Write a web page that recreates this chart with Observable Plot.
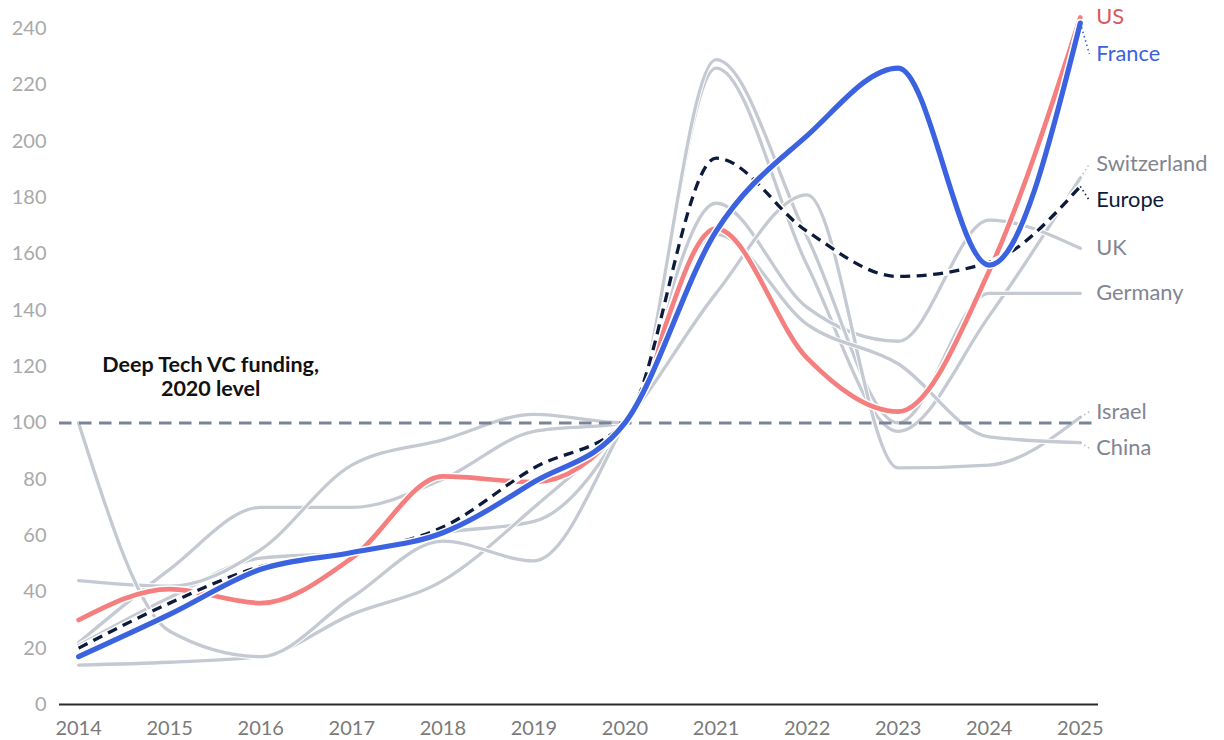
<!DOCTYPE html>
<html>
<head>
<meta charset="utf-8">
<script src="https://cdn.jsdelivr.net/npm/d3@7"></script>
<script src="https://cdn.jsdelivr.net/npm/@observablehq/plot@0.6"></script>
<style>
  html, body { margin: 0; padding: 0; background: #fff; }
  #chart { width: 1224px; height: 740px; }
</style>
</head>
<body>
<div id="chart"></div>
<script>
// Deep Tech VC funding, indexed to the 2020 level (2020 = 100)
const years = [2014, 2015, 2016, 2017, 2018, 2019, 2020, 2021, 2022, 2023, 2024, 2025];

const us          = [30, 41, 36, 52, 81, 79, 100, 169, 123, 104, 154, 244];
const france      = [17, 32, 48, 54, 61, 79, 100, 168, 202, 226, 156, 242];
const europe      = [20, 36, 49, 54, 63, 84, 100, 194, 168, 152, 157, 184];
const switzerland = [22, 48, 70, 70, 80, 97, 100, 226, 156, 97, 138, 187];
const uk          = [21, 38, 52, 54, 61, 65, 100, 178, 141, 129, 172, 162];
const germany     = [44, 42, 55, 85, 94, 103, 100, 229, 166, 100, 146, 146];
const israel      = [14, 15, 17, 32, 44, 70, 100, 146, 181, 84, 85, 102];
const china       = [100, 26, 17, 38, 58, 51, 100, 167, 135, 121, 95, 93];

const yTicks = [0, 20, 40, 60, 80, 100, 120, 140, 160, 180, 200, 220, 240];
const baseline = 100;
const annotation = ["Deep Tech VC funding,", "2020 level"];

// Styling per series
const GRAY = "#c4c9d2";
const series = [
  {name: "Switzerland", values: switzerland, stroke: GRAY, label: "#7f8591", width: 3.3},
  {name: "UK",          values: uk,          stroke: GRAY, label: "#7f8591", width: 3.3},
  {name: "Germany",     values: germany,     stroke: GRAY, label: "#7f8591", width: 3.3},
  {name: "Israel",      values: israel,      stroke: GRAY, label: "#7f8591", width: 3.3},
  {name: "China",       values: china,       stroke: GRAY, label: "#7f8591", width: 3.3},
  {name: "US",          values: us,          stroke: "#f47f7e", label: "#d9585b", width: 4.7},
  {name: "Europe",      values: europe,      stroke: "#0c1a3b", label: "#0c1a3b", width: 3.3, dash: "10,6.5"},
  {name: "France",      values: france,      stroke: "#3b62df", label: "#3b62df", width: 5.2}
];

const rowsOf = s => years.map((year, i) => ({name: s.name, year, value: s.values[i]}));

// End labels: spread apart so they never overlap, capped at the highest end value
const lastYear = years[years.length - 1];
const ends = series.map(s => ({...s, end: s.values[s.values.length - 1]}))
  .sort((a, b) => b.end - a.end);
const labelGap = 13;
const labelCap = ends[0].end;
ends.forEach(e => e.pos = e.end);
for (let k = 0; k < 300; k++) {
  for (let i = 0; i < ends.length - 1; i++) {
    const a = ends[i], b = ends[i + 1];
    const d = a.pos - b.pos;
    if (d < labelGap) {
      const shift = (labelGap - d) / 2;
      a.pos += shift;
      b.pos -= shift;
    }
  }
  if (ends[0].pos > labelCap) ends[0].pos = labelCap;
}
const leaders = ends.filter(e => Math.abs(e.pos - e.end) > 1);
const leaderReach = 0.1;

const marks = [];

// zero baseline
marks.push(Plot.ruleY([0], {stroke: "#2b2b2b", strokeWidth: 2}));

// context countries in gray, each with a thin white halo
for (const s of series.filter(s => s.stroke === GRAY)) {
  const data = rowsOf(s);
  marks.push(Plot.line(data, {x: "year", y: "value", curve: "monotone-x", stroke: "white", strokeWidth: s.width + 2}));
  marks.push(Plot.line(data, {x: "year", y: "value", curve: "monotone-x", stroke: s.stroke, strokeWidth: s.width}));
}

// 2020 reference level
marks.push(Plot.ruleY([baseline], {stroke: "#7b8397", strokeWidth: 3, strokeDasharray: "12.5,7.5"}));

// highlighted series
for (const s of series.filter(s => s.stroke !== GRAY)) {
  const data = rowsOf(s);
  marks.push(Plot.line(data, {x: "year", y: "value", curve: "monotone-x", stroke: "white", strokeWidth: s.width + 3, strokeLinecap: "round"}));
  marks.push(Plot.line(data, {
    x: "year", y: "value", curve: "monotone-x",
    stroke: s.stroke, strokeWidth: s.width,
    strokeDasharray: s.dash, strokeLinecap: s.dash ? "butt" : "round"
  }));
}

// dotted leaders from line ends to displaced labels
marks.push(Plot.link(leaders, {
  x1: () => lastYear, y1: "end",
  x2: () => lastYear + leaderReach, y2: "pos",
  stroke: d => d.stroke === GRAY ? "#b9bec8" : d.stroke,
  strokeWidth: 1.6, strokeDasharray: "1.5,3"
}));

// end labels
marks.push(Plot.text(ends, {
  x: () => lastYear, y: "pos", text: "name",
  fill: "label", dx: 16, textAnchor: "start",
  fontSize: 21.8
}));

// annotation for the reference line
marks.push(Plot.text([annotation.join("\n")], {
  x: () => 2015.45, y: () => baseline,
  text: d => d, lineAnchor: "bottom", dy: -27,
  fontWeight: "bold", fontSize: 21.5, fill: "#111", textAnchor: "middle",
  lineHeight: 1.12
}));

marks.push(Plot.axisY({
  ticks: yTicks, tickSize: 0, tickPadding: 13, color: "#a9a9a9", label: null, fontSize: 20
}));
marks.push(Plot.axisX({
  ticks: years, tickFormat: d => String(d), tickSize: 0, tickPadding: 16,
  color: "#7a7a7a", label: null, fontSize: 20
}));

const chart = Plot.plot({
  width: 1224,
  height: 740,
  marginLeft: 59,
  marginRight: 126,
  marginTop: 0,
  marginBottom: 36,
  style: {fontFamily: "Lato, 'Noto Sans', sans-serif", fontSize: "20px", background: "white", overflow: "visible"},
  x: {type: "linear", domain: [2013.79, 2025.2]},
  y: {domain: [0, 250]},
  marks
});

document.getElementById("chart").appendChild(chart);
</script>
</body>
</html>
